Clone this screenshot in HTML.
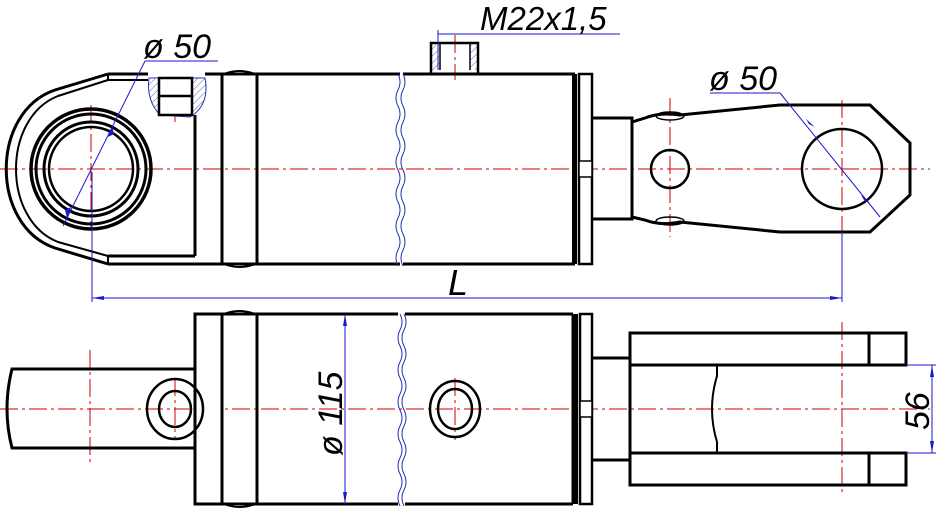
<!DOCTYPE html>
<html><head><meta charset="utf-8"><style>
html,body{margin:0;padding:0;background:#fff;width:941px;height:514px;overflow:hidden}
svg{display:block}
text{font-family:"Liberation Sans",sans-serif;font-style:italic;fill:#000}
</style></head><body>
<svg width="941" height="514" viewBox="0 0 941 514" xmlns="http://www.w3.org/2000/svg">
<defs>
<pattern id="h" width="5" height="5" patternUnits="userSpaceOnUse" patternTransform="rotate(45)">
<line x1="0" y1="0" x2="0" y2="5" stroke="#2233aa" stroke-width="0.8"/></pattern>
</defs>
<g stroke="#cc0000" stroke-width="1" stroke-dasharray="18,4,3,4" fill="none">
<line x1="0" y1="169" x2="930" y2="169"/>
<line x1="0" y1="409" x2="930" y2="409"/>
<line x1="91" y1="105" x2="91" y2="230"/>
<line x1="175" y1="77" x2="175" y2="122"/>
<line x1="670" y1="98" x2="670" y2="237"/>
<line x1="842" y1="100" x2="842" y2="235"/>
<line x1="455" y1="35" x2="455" y2="80"/>
<line x1="90" y1="350" x2="90" y2="462"/>
<line x1="175" y1="378" x2="175" y2="440"/>
<line x1="455" y1="378" x2="455" y2="440"/>
<line x1="842" y1="322" x2="842" y2="496"/>
</g>
<g stroke="#000" stroke-width="3" fill="none">
<path d="M108,74 L55,90 C-10,112 -10,226 55,248 L108,264"/>
<path d="M108,80 L58,96 C2,118 2,220 58,242 L108,256" stroke-width="2"/>
<line x1="108" y1="74" x2="108" y2="80" stroke-width="2"/>
<line x1="108" y1="256" x2="108" y2="264" stroke-width="2"/>
<line x1="108" y1="74" x2="148" y2="74"/>
<line x1="108" y1="80" x2="148" y2="80" stroke-width="2"/>
<line x1="108" y1="256" x2="195" y2="256"/>
<line x1="195" y1="115" x2="195" y2="256"/>
<line x1="108" y1="264" x2="400" y2="264"/>
<line x1="205" y1="74" x2="400" y2="74"/>
<circle cx="91" cy="169" r="60" stroke-width="3.5"/>
<circle cx="91" cy="169" r="55" stroke-width="3"/>
<circle cx="91" cy="169" r="47" stroke-width="3"/>
<circle cx="91" cy="169" r="42" stroke-width="2.5"/>
<path d="M222,74 L222,264"/>
<path d="M257,74 L257,264"/>
<path d="M224,74 Q239,68 255,74 M224,264 Q239,270 255,264" stroke-width="2"/>
<line x1="403" y1="74" x2="575" y2="74"/>
<line x1="403" y1="264" x2="575" y2="264"/>
<rect x="572" y="74" width="5" height="190" fill="#000" stroke="none"/>
<rect x="579" y="74" width="13" height="190" stroke-width="2.5"/>
<rect x="579" y="161" width="13" height="16" fill="#fff" stroke-width="1.5"/>
<polyline points="593,118 632,118 632,219 593,219"/>
<path d="M632,122 L645,118 Q660,112 680,115 L780,105 L870,105 L910,143 L910,195 L870,232 L780,232 L680,222 Q660,226 645,220 L632,217"/>
<ellipse cx="670" cy="116" rx="14" ry="4" stroke-width="1.5"/>
<ellipse cx="670" cy="221" rx="14" ry="4" stroke-width="1.5"/>
<circle cx="670" cy="169" r="19" stroke-width="2.5"/>
<circle cx="842" cy="169" r="40" stroke-width="2.5"/>
<rect x="431" y="43" width="47" height="31" stroke-width="2.5"/>
<line x1="440" y1="43" x2="440" y2="70" stroke-width="1.5"/>
<line x1="470" y1="43" x2="470" y2="70" stroke-width="1.5"/>
</g>
<rect x="432" y="45" width="7" height="25" fill="url(#h)"/>
<rect x="470" y="45" width="7" height="25" fill="url(#h)"/>
<path d="M149,78 Q146,100 160,115 L190,117 Q210,105 205,78 Z" fill="url(#h)" stroke="#2233aa" stroke-width="1"/>
<g stroke="#000" stroke-width="2.5" fill="#fff">
<rect x="159" y="78" width="33" height="37"/>
<line x1="159" y1="96" x2="192" y2="96"/>
</g>
<g stroke="#2233aa" stroke-width="1" fill="none">
<path d="M398,74 q4,8 0,16 q-4,8 0,16 q4,8 0,16 q-4,8 0,16 q4,8 0,16 q-4,8 0,16 q4,8 0,16 q-4,8 0,16 q4,8 0,16 q-4,8 0,16 q4,8 0,16 q-4,8 0,16"/>
<path d="M403,74 q4,8 0,16 q-4,8 0,16 q4,8 0,16 q-4,8 0,16 q4,8 0,16 q-4,8 0,16 q4,8 0,16 q-4,8 0,16 q4,8 0,16 q-4,8 0,16 q4,8 0,16 q-4,8 0,16"/>
<path d="M400,314 q4,8 0,16 q-4,8 0,16 q4,8 0,16 q-4,8 0,16 q4,8 0,16 q-4,8 0,16 q4,8 0,16 q-4,8 0,16 q4,8 0,16 q-4,8 0,16 q4,8 0,16 q-4,8 0,16"/>
<path d="M404,314 q4,8 0,16 q-4,8 0,16 q4,8 0,16 q-4,8 0,16 q4,8 0,16 q-4,8 0,16 q4,8 0,16 q-4,8 0,16 q4,8 0,16 q-4,8 0,16 q4,8 0,16 q-4,8 0,16"/>
</g>
<g stroke="#1a1acc" stroke-width="1" fill="none">
<line x1="92" y1="172" x2="92" y2="302"/>
<line x1="842" y1="232" x2="842" y2="302"/>
<line x1="92" y1="298" x2="842" y2="298"/>
<line x1="145" y1="61" x2="218" y2="61"/>
<line x1="145" y1="61" x2="63" y2="226"/>
<line x1="710" y1="93" x2="780" y2="93"/>
<line x1="780" y1="93" x2="880" y2="217"/>
<line x1="438" y1="34" x2="620" y2="34"/>
<line x1="438" y1="30" x2="438" y2="70"/>
</g>
<g fill="#1a1acc">
<polygon points="92,298 104,296 104,300"/><polygon points="842,298 830,296 830,300"/>
<polygon points="112,126 108,137 114,134"/><polygon points="67,218 71,207 65,210"/>
<polygon points="815,127 806,119 809,124"/><polygon points="870,203 861,195 864,200"/>
</g>
<text x="143" y="58" font-size="34">ø 50</text>
<text x="709" y="90" font-size="34">ø 50</text>
<text x="480" y="30" font-size="33">M22x1,5</text>
<text x="448" y="295" font-size="36">L</text>
<g stroke="#000" stroke-width="3" fill="none">
<path d="M195,369 L12,369 Q2,409 12,448 L195,448"/>
<rect x="195" y="314" width="27" height="190" fill="#fff"/>
<path d="M222,314 L222,504 M257,314 L257,504"/>
<path d="M224,314 Q239,308 255,314 M224,504 Q239,510 255,504" stroke-width="2"/>
<line x1="222" y1="314" x2="398" y2="314"/>
<line x1="222" y1="504" x2="398" y2="504"/>
<line x1="405" y1="314" x2="573" y2="314"/>
<line x1="405" y1="504" x2="573" y2="504"/>
<line x1="573" y1="314" x2="573" y2="504"/>
<rect x="573" y="314" width="5" height="190" fill="#000" stroke="none"/>
<rect x="580" y="314" width="12" height="190" stroke-width="2.5"/>
<rect x="580" y="401" width="12" height="16" fill="#fff" stroke-width="1.5"/>
<polyline points="593,358 630,358 630,460 593,460"/>
<rect x="630" y="333" width="276" height="32"/>
<rect x="630" y="453" width="276" height="32"/>
<line x1="630" y1="365" x2="630" y2="453"/>
<line x1="869" y1="333" x2="869" y2="365"/>
<line x1="869" y1="453" x2="869" y2="485"/>
<path d="M717,365 L717,376 Q707,409 717,442 L717,453" stroke-width="2"/>
<ellipse cx="175" cy="409" rx="28" ry="30" stroke-width="2.5"/>
<ellipse cx="175" cy="409" rx="16" ry="18" stroke-width="2.5"/>
<ellipse cx="455" cy="409" rx="25" ry="28" stroke-width="2.5"/>
<ellipse cx="455" cy="409" rx="17" ry="20" stroke-width="2.5"/>
</g>
<g stroke="#1a1acc" stroke-width="1" fill="none">
<line x1="345" y1="314" x2="345" y2="504"/>
<line x1="906" y1="365" x2="936" y2="365"/>
<line x1="906" y1="453" x2="936" y2="453"/>
<line x1="932" y1="365" x2="932" y2="453"/>
</g>
<g fill="#1a1acc">
<polygon points="345,314 343,326 347,326"/><polygon points="345,504 343,492 347,492"/>
<polygon points="932,365 930,377 934,377"/><polygon points="932,453 930,441 934,441"/>
</g>
<text transform="translate(342,456) rotate(-90)" font-size="34">ø 115</text>
<text transform="translate(929,430) rotate(-90)" font-size="34">56</text>
</svg>
</body></html>
